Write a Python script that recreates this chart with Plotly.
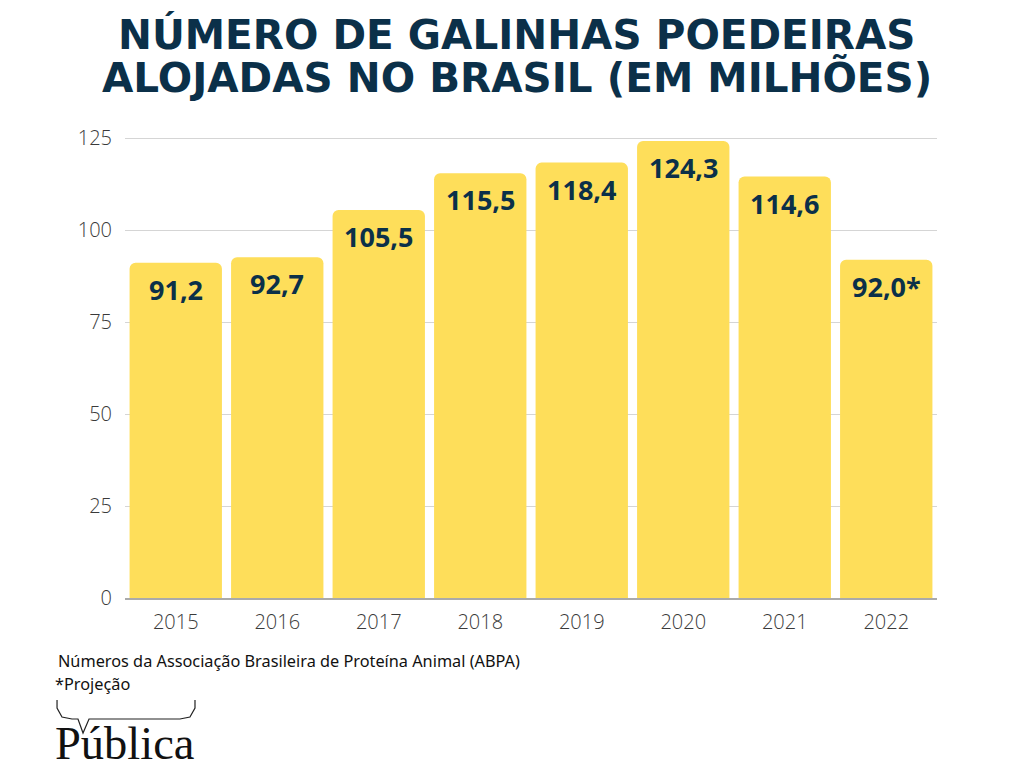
import plotly.graph_objects as go

# Data (milhões de galinhas poedeiras alojadas)
anos = ['2015', '2016', '2017', '2018', '2019', '2020', '2021', '2022']
valores = [91.2, 92.7, 105.5, 115.5, 118.4, 124.3, 114.6, 92.0]
rotulos = ['91,2', '92,7', '105,5', '115,5', '118,4', '124,3', '114,6', '92,0*']
y_ticks = [0, 25, 50, 75, 100, 125]

NAVY = '#0B3049'
YELLOW = '#FEDE5A'

# plot area in pixels (used to place the footer bits outside it)
L, R, T, B = 125, 87, 131, 170
W, H = 1024, 768
PW, PH = W - L - R, H - T - B


def px(x, y):
    return (x - L) / PW, (H - B - y) / PH


fig = go.Figure()

fig.add_trace(go.Bar(
    x=anos,
    y=valores,
    marker=dict(color=YELLOW, cornerradius=6, line=dict(width=0)),
    hoverinfo='x+y',
))

# value labels inside the top of each bar (x as category index)
for i, (v, txt) in enumerate(zip(valores, rotulos)):
    fig.add_annotation(
        x=i, y=v, text=f'<b>{txt}</b>', showarrow=False,
        yanchor='top', yshift=-6,
        font=dict(family='Open Sans', size=27, color=NAVY),
    )

# title, two lines (tight leading like the original)
for txt, yy in [('NÚMERO DE GALINHAS POEDEIRAS', 35),
                ('ALOJADAS NO BRASIL (EM MILHÕES)', 78)]:
    fig.add_annotation(
        xref='paper', yref='paper', x=px(517, 0)[0], y=px(0, yy)[1],
        xanchor='center', yanchor='middle', showarrow=False,
        text=f'<b>{txt}</b>',
        font=dict(family='DejaVu Sans', size=40.5, color=NAVY),
    )

# footer notes
fig.add_annotation(
    xref='paper', yref='paper', x=px(56, 0)[0], y=px(0, 661)[1],
    xanchor='left', yanchor='middle', showarrow=False,
    text='Números da Associação Brasileira de Proteína Animal (ABPA)',
    font=dict(family='Noto Sans', size=16.3, color='#111111'),
)
fig.add_annotation(
    xref='paper', yref='paper', x=px(53, 0)[0], y=px(0, 684)[1],
    xanchor='left', yanchor='middle', showarrow=False,
    text='*Projeção',
    font=dict(family='Noto Sans', size=16.3, color='#111111'),
)

# Pública logo
fig.add_annotation(
    xref='paper', yref='paper', x=px(53, 0)[0], y=px(0, 743)[1],
    xanchor='left', yanchor='middle', showarrow=False,
    text='Pública',
    font=dict(family='Liberation Serif', size=46.5, color='#111111'),
)
brace = [(57, 700), (57, 708), (62, 717), (72, 719), (78, 719), (83, 733),
         (89, 719), (180, 719), (190, 717), (195, 708), (195, 700)]
pts = [px(x, y) for x, y in brace]
path = 'M ' + ' L '.join(f'{a:.4f},{b:.4f}' for a, b in pts)
fig.add_shape(type='path', xref='paper', yref='paper', path=path,
              line=dict(color='#222222', width=1.2))

fig.update_layout(
    width=W, height=H,
    margin=dict(l=L, r=R, t=T, b=B),
    paper_bgcolor='white',
    plot_bgcolor='white',
    bargap=0.09,
    showlegend=False,
    xaxis=dict(
        type='category',
        range=[-0.5, len(anos) - 0.5],
        showgrid=False,
        showline=True, linecolor='#AAAAAA', linewidth=2,
        ticks='', ticklabelstandoff=5,
        tickfont=dict(family='Open Sans', size=20, color='#3A3A3A', weight=300),
    ),
    yaxis=dict(
        range=[0, 127],
        tickvals=y_ticks,
        showgrid=True, gridcolor='#D5D5D5', gridwidth=1,
        zeroline=False,
        ticks='', ticklabelstandoff=12,
        tickfont=dict(family='Open Sans', size=20, color='#3A3A3A', weight=300),
    ),
)

fig.write_html('out.html', config={'displayModeBar': False},
               post_script="document.body.style.margin='0';")
